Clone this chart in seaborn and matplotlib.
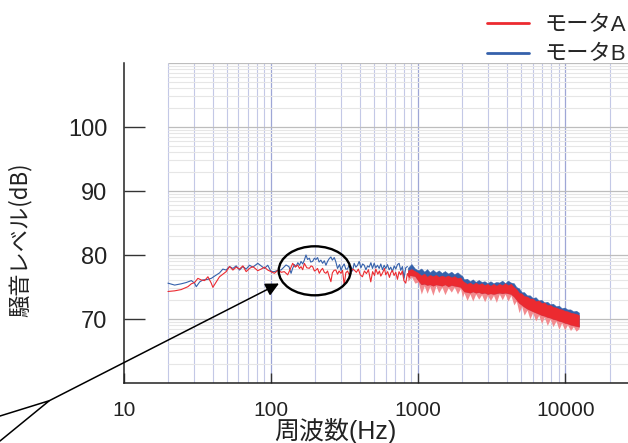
import numpy as np
import pandas as pd
import matplotlib
matplotlib.use("Agg")
import matplotlib.pyplot as plt
import seaborn as sns
from matplotlib.lines import Line2D
from matplotlib.patches import Ellipse

# ---------------- data ----------------
series_names = ["モータA", "モータB"]
series_colors = ["#ec2a30", "#3561ab"]

# モータB : low / mid frequency trace
freq_b = [19.9, 22.1, 24.5, 26.5, 28.7, 30.2, 31.0, 32.7, 34.4, 37.2, 39.2, 41.3, 44.6, 47.0,
          49.5, 52.2, 55.0, 57.9, 61.0, 64.3, 67.7, 71.3, 75.1, 81.2, 85.5, 90.1, 94.9,
          100, 105.3, 110.9, 116.9, 126.4, 132.3, 136.7, 140, 144, 147.7, 152, 156, 159.8,
          164, 168.3, 172.7, 177, 182, 186, 191.6, 197, 202, 207, 212, 218, 224, 230, 236,
          242, 248, 255, 261, 268.7, 275, 283, 292, 299, 306, 314, 322, 331, 340, 349, 358,
          367, 377, 387, 397, 408, 419, 430, 441, 453, 464, 477, 489, 502, 515, 529, 543,
          557, 572, 587, 602, 618, 635, 651, 668, 687, 704, 723, 742, 761, 781, 802, 823, 845]
level_b = [75.6, 75.3, 75.5, 75.7, 76.0, 75.6, 75.05, 75.8, 76.1, 76.2, 76.35, 76.7, 77.2, 77.8,
           77.65, 78.2, 77.9, 78.3, 77.65, 78.2, 77.8, 78.4, 78.1, 78.7, 78.3, 77.9, 78.4,
           77.4, 77.4, 77.6, 77.66, 78.44, 78.18, 77.14, 77.9, 78.5, 78.2, 78.8, 78.4, 79.0,
           78.6, 79.2, 80.0, 79.3, 79.5, 78.9, 79.0, 79.5, 79.3, 79.6, 78.9, 79.2, 78.7, 79.1, 78.4,
           79.0, 79.4, 79.7, 79.2, 79.6, 79.0, 77.9, 78.5, 77.6, 78.2, 78.6, 77.8, 77.8, 78.5, 78.2, 77.5,
           78.7, 78.1, 78.4, 79.0, 78.0, 78.6, 78.4, 77.7, 78.3, 78.1, 78.8, 77.9, 78.7, 78.0, 78.4, 77.9,
           78.6, 77.7, 78.4, 77.9, 78.5, 77.7, 78.1, 77.4, 78.3, 77.8, 78.5, 78.7, 77.6, 78.2, 76.4, 78.0, 78.2]

# モータA : low / mid frequency trace
freq_a = [19.9, 22.1, 24.5, 27.2, 28.7, 30.2, 31.8, 33.5, 35.3, 37.2, 39.2, 40.2, 42.4, 44.6,
          47.0, 49.5, 52.2, 55.0, 57.9, 61.0, 64.3, 67.7, 71.3, 75.1, 81.2, 85.5, 90.1, 94.9,
          100, 105.3, 112, 117, 123, 129.7, 135, 140.2, 146, 151.6, 156, 159.8, 164, 168.3,
          175, 182, 187, 191.6, 197, 202, 207, 212.7, 218, 223.9, 230, 235.9, 242, 248.6, 255,
          261, 268, 275.5, 283, 290, 298.3, 306, 314.2, 322, 331, 339.7, 349, 358, 367.3,
          380, 392, 404, 418, 431, 445, 459, 476, 490, 505, 515, 532, 545, 557, 575, 590,
          602, 620, 638, 651, 668, 686, 704, 723, 741, 761, 780, 800, 823, 845, 870, 890]
level_a = [74.3, 74.4, 74.6, 75.05, 75.5, 75.7, 76.35, 76.1, 76.0, 76.6, 75.6, 74.95, 75.8, 76.6,
           77.0, 77.4, 78.2, 77.65, 78.1, 77.8, 78.3, 77.4, 77.9, 78.2, 77.55, 77.8, 78.1, 77.65,
           77.4, 77.14, 77.66, 77.3, 77.4, 76.9, 77.8, 78.7, 78.1, 78.44, 77.9, 78.18, 77.7, 78.7,
           78.0, 77.92, 78.3, 78.18, 77.5, 77.66, 77.9, 77.14, 77.6, 77.92, 77.3, 77.14, 77.5, 76.6, 75.83,
           77.2, 77.6, 77.66, 77.0, 77.5, 77.14, 77.6, 75.3, 77.2, 77.5, 76.9, 77.4, 77.8, 77.66,
           77.3, 77.8, 76.9, 76.6, 77.5, 77.1, 77.7, 75.8, 77.4, 76.8, 77.8, 77.0, 77.5, 76.7, 77.3, 77.9,
           76.9, 77.4, 76.5, 77.2, 77.6, 76.8, 77.3, 76.2, 77.4, 76.9, 77.5, 76.0, 75.6, 77.1, 76.5, 77.3]

# high-frequency dense band (envelopes)
band_freq = [850, 900, 950, 1000, 1050, 1100, 1150, 1200, 1260, 1320, 1380, 1450, 1520, 1600,
             1680, 1760, 1850, 1940, 2000, 2050, 2150, 2250, 2350, 2460, 2580, 2700, 2830, 2960,
             3100, 3250, 3400, 3560, 3730, 3900, 4080, 4270, 4470, 4650, 4850, 5050, 5250, 5500,
             5750, 6000, 6300, 6600, 6900, 7200, 7550, 7900, 8250, 8650, 9050, 9450, 9900, 10350,
             10850, 11350, 11850, 12400]
band_b_top = [78.0, 78.6, 77.9, 77.6, 77.9, 77.4, 77.8, 77.3, 77.7, 77.3, 77.6, 77.2, 77.5, 77.1,
              77.4, 77.0, 77.3, 76.9, 76.7, 76.2, 76.3, 75.9, 76.2, 75.8, 76.1, 75.8, 75.9, 75.6,
              75.9, 75.6, 75.8, 75.7, 76.0, 75.6, 76.0, 75.7, 75.6, 75.0, 74.8, 74.2, 74.2, 73.7,
              73.7, 73.3, 73.4, 72.9, 73.0, 72.6, 72.7, 72.3, 72.4, 72.0, 72.1, 71.7, 71.8, 71.5,
              71.5, 71.2, 71.3, 71.0]
band_a_top = [77.6, 77.8, 77.5, 77.2, 76.8, 77.1, 76.6, 76.9, 76.7, 76.9, 76.6, 76.8, 76.6, 76.8,
              76.5, 76.7, 76.4, 76.5, 76.0, 75.8, 75.5, 75.7, 75.4, 75.7, 75.4, 75.6, 75.3, 75.5,
              75.2, 75.5, 75.2, 75.5, 75.3, 75.6, 75.3, 75.5, 75.0, 74.7, 74.1, 74.0, 73.6, 73.5,
              73.2, 73.2, 72.8, 72.9, 72.5, 72.6, 72.2, 72.2, 71.9, 71.8, 71.6, 71.5, 71.3, 71.2,
              71.0, 70.9, 70.8, 70.6]
band_a_bottom = [76.9, 76.8, 76.7, 76.0, 75.4, 75.5, 75.3, 75.4, 75.2, 75.4, 75.3, 75.2, 75.4, 75.1,
                 75.3, 75.2, 75.1, 75.0, 74.6, 74.3, 74.2, 74.1, 74.3, 74.1, 74.2, 74.0, 74.1, 73.9,
                 74.0, 73.9, 74.0, 74.1, 74.0, 74.1, 74.0, 73.9, 73.5, 73.0, 72.5, 72.2, 71.9, 71.6,
                 71.4, 71.2, 71.0, 70.8, 70.6, 70.5, 70.3, 70.2, 70.0, 69.9, 69.7, 69.6, 69.4, 69.3,
                 69.1, 69.0, 68.9, 68.8]
band_a_spike = [75.9, 76.6, 75.6, 75.8, 73.9, 75.2, 74.0, 75.1, 73.7, 75.2, 74.1, 75.0, 73.8, 74.9,
                74.2, 75.0, 73.9, 74.8, 73.4, 74.1, 72.9, 73.9, 72.8, 73.9, 73.1, 73.8, 72.7, 73.7,
                72.9, 73.7, 72.6, 73.9, 73.0, 73.9, 72.8, 73.7, 72.2, 72.8, 71.0, 72.0, 70.6, 71.4,
                70.0, 71.0, 69.7, 70.6, 69.3, 70.3, 69.0, 70.0, 68.8, 69.7, 68.4, 69.4, 68.3, 69.1,
                68.2, 68.8, 68.1, 68.5]

x_tick_values = [10, 100, 1000, 10000]
x_tick_labels = ["10", "100", "1000", "10000"]
y_tick_values = [70, 80, 90, 100]
y_tick_labels = ["70", "80", "90", "100"]
x_label = "周波数(Hz)"
y_label = "騒音レベル(dB)"

# ---------------- style ----------------
sns.set_theme(style="white")
FONTS = ["Liberation Sans", "Noto Sans CJK JP", "DejaVu Sans"]
CJK_FIRST = ["Noto Sans CJK JP", "Liberation Sans", "DejaVu Sans"]
plt.rcParams["font.family"] = FONTS

W, H = 628, 443
fig = plt.figure(figsize=(W / 100, H / 100), dpi=100)
fig.patch.set_facecolor("white")

XMIN, XMAX = 10, 26700
YMIN, YMAX = 60, 110
ax = fig.add_axes([124 / W, 1 - 383 / H, 1 - 124 / W, (383 - 63) / H])
ax.set_facecolor("white")
ax.set_xscale("log")
ax.set_xlim(XMIN, XMAX)
ax.set_ylim(YMIN, YMAX)

# grid (only over 20 Hz .. 20 kHz region)
GX0, GX1 = 20, 20000
for d in range(1, 5):
    for k in range(1, 10):
        f = k * 10 ** d
        if GX0 <= f <= GX1:
            major = (k == 1)
            ax.vlines(f, YMIN, YMAX, colors="#9ea6d6" if major else "#c3c8e6",
                      lw=0.9 if major else 0.8, zorder=0)
for base in range(60, 111, 10):
    ax.hlines(base, GX0, XMAX, colors="#bdbdbd", lw=0.9, zorder=0)
    for k in range(2, 10):
        yv = base + 10 * np.log10(k)
        if yv <= YMAX:
            ax.hlines(yv, GX0, XMAX, colors="#e6e6e6", lw=0.8, zorder=0)

# high-frequency band
ax.fill_between(band_freq, band_b_top, band_a_bottom, color=series_colors[1], lw=0.3, zorder=2)
ax.fill_between(band_freq, band_a_bottom, band_a_spike, color="#f28b8f", lw=0, zorder=3)
ax.fill_between(band_freq, band_a_top, band_a_bottom, color=series_colors[0], lw=0.3, zorder=3)

# low/mid traces
df_b = pd.DataFrame({"f": freq_b, "L": level_b})
df_a = pd.DataFrame({"f": freq_a, "L": level_a})
sns.lineplot(data=df_b, x="f", y="L", color=series_colors[1], lw=0.8, estimator=None,
             sort=False, ax=ax, zorder=2)
sns.lineplot(data=df_a, x="f", y="L", color=series_colors[0], lw=0.8, estimator=None,
             sort=False, ax=ax, zorder=3)

# axes cosmetics
for s in ["top", "right"]:
    ax.spines[s].set_visible(False)
for s in ["left", "bottom"]:
    ax.spines[s].set_color("#222222")
    ax.spines[s].set_linewidth(1.1)
ax.set_yticks(y_tick_values, y_tick_labels)
ax.set_xticks(x_tick_values, x_tick_labels)
ax.minorticks_off()
ax.tick_params(axis="y", direction="in", length=15, width=1.0, color="#333333",
               pad=12, labelsize=17, labelcolor="#222222", left=True)
ax.tick_params(axis="x", direction="in", length=7, width=1.0, color="#333333",
               pad=13, labelsize=15, labelcolor="#222222", bottom=True)
ax.set_xlabel("")
ax.set_ylabel("")

fig.text(335 / W, 1 - 431 / H, x_label, ha="center", va="center", fontsize=18,
         color="#222222", family=FONTS)
fig.text(20 / W, 1 - 240 / H, y_label, ha="center", va="center", rotation=90,
         fontsize=16, color="#222222", family=CJK_FIRST)

# legend
handles = [Line2D([0], [0], color=c, lw=2) for c in series_colors]
fig.legend(handles, series_names, loc="upper left", bbox_to_anchor=(480 / W, 1 - 8 / H),
           frameon=False, fontsize=16, handlelength=1.9, handletextpad=0.7,
           labelspacing=0.4, borderaxespad=0, borderpad=0.3)

# annotation: ellipse + arrow + callout lines
ell = Ellipse((314.7 / W, 1 - 270.8 / H), 72 / W, 49 / H, transform=fig.transFigure,
              fill=False, ec="black", lw=1.7, zorder=10)
fig.add_artist(ell)
ax.annotate("", xy=(279, H - 283.5), xytext=(49.3, H - 400.7), xycoords="figure pixels",
            textcoords="figure pixels", annotation_clip=False,
            arrowprops=dict(arrowstyle="-|>", color="black", lw=1.1, mutation_scale=20,
                            shrinkA=0, shrinkB=0))
fig.add_artist(Line2D([0, 49.3 / W, 0], [1 - 416 / H, 1 - 400.7 / H, 1 - 441 / H],
                      transform=fig.transFigure, color="black", lw=1.1))

fig.savefig("out.png", dpi=100)
